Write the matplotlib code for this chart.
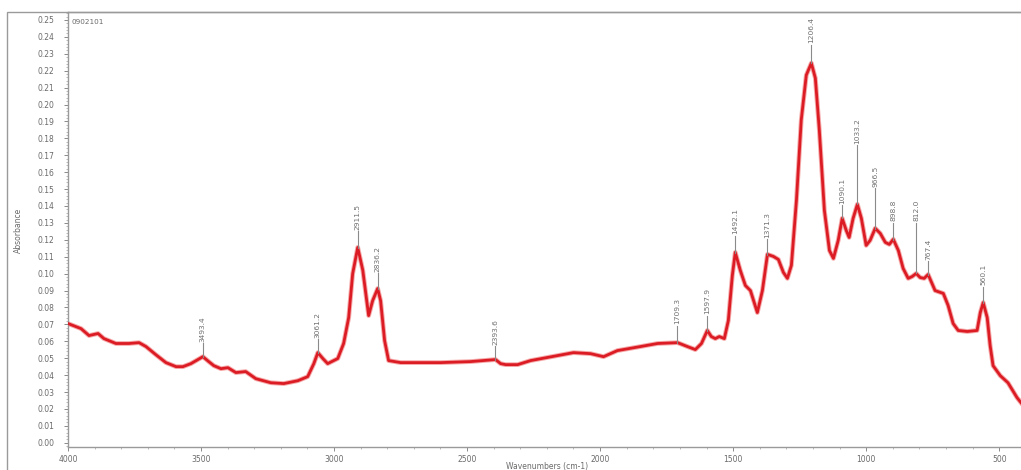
import numpy as np
import matplotlib
matplotlib.use("Agg")
import matplotlib.pyplot as plt
from matplotlib.ticker import MultipleLocator, FormatStrFormatter
from matplotlib.patches import Rectangle

# FTIR spectrum: wavenumber (cm-1) and absorbance
wavenumber = [4000, 3951, 3921, 3887, 3865, 3820, 3771, 3733, 3707, 3670,
              3632, 3594, 3568, 3538, 3493, 3471, 3452, 3425, 3399, 3369,
              3332, 3294, 3238, 3189, 3136, 3099, 3076, 3061, 3042, 3024,
              2986, 2964, 2945, 2930, 2911, 2892, 2870, 2855, 2836, 2825,
              2810, 2795, 2750, 2599, 2487, 2393, 2374, 2355, 2310, 2261,
              2100, 2036, 1987, 1935, 1848, 1784, 1709, 1672, 1642, 1619,
              1597, 1582, 1567, 1552, 1533, 1518, 1503, 1492, 1473, 1454,
              1435, 1409, 1390, 1371, 1349, 1330, 1311, 1296, 1281, 1262,
              1244, 1225, 1206, 1191, 1176, 1157, 1138, 1123, 1105, 1090,
              1075, 1064, 1049, 1033, 1018, 1000, 985, 966, 947, 928,
              913, 898, 879, 861, 842, 827, 812, 797, 782, 767,
              741, 710, 692, 673, 654, 620, 583, 571, 560, 545,
              534, 523, 496, 467, 433, 418]
absorbance = [0.0705, 0.0675, 0.0634, 0.0646, 0.0616, 0.0587, 0.0587, 0.0592, 0.0569, 0.0521,
              0.0474, 0.0450, 0.0450, 0.0468, 0.0509, 0.0480, 0.0456, 0.0438, 0.0444, 0.0415,
              0.0421, 0.0379, 0.0355, 0.0350, 0.0367, 0.0391, 0.0468, 0.0533, 0.0498, 0.0468,
              0.0498, 0.0587, 0.0740, 0.1000, 0.1155, 0.1020, 0.0752, 0.0840, 0.0912, 0.0840,
              0.0604, 0.0486, 0.0474, 0.0474, 0.0480, 0.0492, 0.0468, 0.0462, 0.0462, 0.0486,
              0.0533, 0.0527, 0.0509, 0.0545, 0.0569, 0.0587, 0.0592, 0.0569, 0.0551, 0.0587,
              0.0664, 0.0628, 0.0616, 0.0628, 0.0616, 0.0723, 0.0989, 0.1126, 0.1019, 0.0930,
              0.0900, 0.0770, 0.0900, 0.1114, 0.1102, 0.1084, 0.1007, 0.0972, 0.1049, 0.1434,
              0.1908, 0.2174, 0.2245, 0.2156, 0.1848, 0.1374, 0.1137, 0.1090, 0.1197, 0.1327,
              0.1256, 0.1214, 0.1327, 0.1410, 0.1327, 0.1167, 0.1197, 0.1268, 0.1238, 0.1185,
              0.1173, 0.1203, 0.1137, 0.1031, 0.0972, 0.0983, 0.1001, 0.0977, 0.0972, 0.0995,
              0.0900, 0.0883, 0.0812, 0.0705, 0.0664, 0.0658, 0.0664, 0.0770, 0.0829, 0.0740,
              0.0575, 0.0456, 0.0397, 0.0355, 0.0267, 0.0237]

# Labelled peak positions (cm-1) and leader line lengths (absorbance units)
peak_wn = [3493.4, 3061.2, 2911.5, 2836.2, 2393.6, 1709.3, 1597.9, 1492.1,
           1371.3, 1206.4, 1090.1, 1033.2, 966.5, 898.8, 812.0, 767.4, 560.1]
leader_len = [0.008, 0.008, 0.010, 0.009, 0.008, 0.010, 0.009, 0.010,
              0.0095, 0.011, 0.008, 0.035, 0.024, 0.010, 0.030, 0.008, 0.0095]

sample_id = "0902101"

fig = plt.figure(figsize=(10.21, 4.70), dpi=100)
fig.patch.set_facecolor("white")

# outer frame of the report page
fig.patches.append(Rectangle((7 / 1021, -0.01), 1.2, 1 - 12 / 470 + 0.01,
                             transform=fig.transFigure, fill=False,
                             edgecolor="#9a9a9a", lw=1.0))

ax = fig.add_axes([68 / 1021, 1 - 447 / 470, 1 - 68 / 1021, (447 - 12) / 470])
ax.set_facecolor("white")

wn = np.array(wavenumber)
ab = np.array(absorbance)
ax.plot(wn, ab, color="#f07070", lw=3.4, alpha=0.6, solid_joinstyle="round", zorder=2)
ax.plot(wn, ab, color="#dc1c24", lw=2.0, solid_joinstyle="round", zorder=3)

ax.set_xlim(4000, 418)
ax.set_ylim(-0.0025, 0.2547)

label_color = "#707070"
order = np.argsort(wn)
for p, L in zip(peak_wn, leader_len):
    y0 = np.interp(p, wn[order], ab[order])
    ax.plot([p, p], [y0, y0 + L], color="#8a8a8a", lw=0.8, zorder=4)
    ax.text(p, y0 + L + 0.0008, f"{p:.1f}", rotation=90, ha="center", va="bottom",
            fontsize=5.4, color=label_color, zorder=5)

ax.xaxis.set_major_locator(MultipleLocator(500))
ax.xaxis.set_minor_locator(MultipleLocator(100))
ax.xaxis.set_major_formatter(FormatStrFormatter("%d"))
ax.yaxis.set_major_locator(MultipleLocator(0.01))
ax.yaxis.set_minor_locator(MultipleLocator(0.002))
ax.yaxis.set_major_formatter(FormatStrFormatter("%.2f"))

ax.tick_params(axis="both", which="major", labelsize=5.5, labelcolor="#6a6a6a",
               color="#8a8a8a", length=3, width=0.7, direction="out", pad=3)
ax.tick_params(axis="both", which="minor", color="#a0a0a0", length=1.5, width=0.5,
               direction="out")
ax.tick_params(axis="y", which="major", pad=7)

for s in ["left", "bottom", "top"]:
    ax.spines[s].set_color("#9a9a9a")
    ax.spines[s].set_linewidth(1.0)
ax.spines["right"].set_visible(False)

ax.text(0.004, 0.985, sample_id, transform=ax.transAxes, ha="left", va="top",
        fontsize=5.2, color="#6a6a6a")

fig.text(547 / 1021, 1 - 466 / 470, "Wavenumbers (cm-1)", ha="center", va="center",
         fontsize=5.5, color="#6a6a6a")
fig.text(18 / 1021, 1 - 230 / 470, "Absorbance", ha="center", va="center",
         rotation=90, fontsize=5.5, color="#6a6a6a")

fig.savefig("out.png", dpi=100, facecolor=fig.get_facecolor())
